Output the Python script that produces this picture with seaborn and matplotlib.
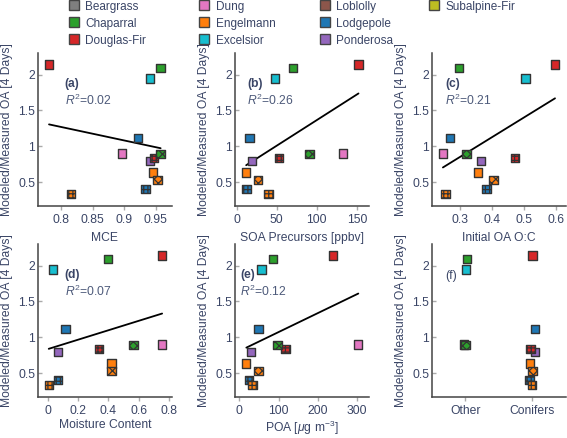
import numpy as np
import pandas as pd
import matplotlib
matplotlib.use("Agg")
import matplotlib.pyplot as plt
from matplotlib.lines import Line2D
from matplotlib.ticker import FuncFormatter
import seaborn as sns

# legend order / colours
fuels = ['Beargrass', 'Chaparral', 'Douglas-Fir', 'Dung', 'Engelmann',
         'Excelsior', 'Loblolly', 'Lodgepole', 'Ponderosa', 'Subalpine-Fir']
fuel_colors = ['#7f7f7f', '#2ca02c', '#d62728', '#e377c2', '#ff7f0e',
               '#17becf', '#8c564b', '#1f77b4', '#9467bd', '#bcbd22']

# one entry per fire
species = ['Douglas-Fir', 'Excelsior', 'Chaparral', 'Lodgepole', 'Dung', 'Douglas-Fir',
           'Chaparral', 'Ponderosa', 'Engelmann', 'Engelmann', 'Lodgepole', 'Engelmann']
pattern = ['', '', '', '', '', '+', 'x', '', '', 'x', '+', '+']
fuel_type = ['Conifers', 'Other', 'Other', 'Conifers', 'Other', 'Conifers',
             'Other', 'Conifers', 'Conifers', 'Conifers', 'Conifers', 'Conifers']
ratio = [2.14, 1.945, 2.09, 1.115, 0.90, 0.833, 0.89, 0.797, 0.635, 0.533, 0.40, 0.335]
mce = [0.781, 0.941, 0.958, 0.922, 0.897, 0.947, 0.958, 0.941, 0.946, 0.953, 0.934, 0.816]
soa_precursors = [152, 48, 70, 16, 133, 53, 91, 19, 12, 27, 12.5, 40]
initial_oc = [0.598, 0.506, 0.297, 0.27, 0.247, 0.473, 0.321, 0.367, 0.356, 0.405, 0.384, 0.255]
moisture = [0.755, 0.033, 0.40, 0.117, 0.755, 0.338, 0.567, 0.068, 0.421, 0.421, 0.07, 0.007]
poa = [238, 57, 86, 49, 303, 118, 97, 30, 18, 49, 24, 34]

r2_text = ['0.02', '0.26', '0.21', '0.07', '0.12']
panel_tags = ['(a)', '(b)', '(c)', '(d)', '(e)', '(f)']
tag_x = [0.2, 0.09, 0.1, 0.2, 0.04, 0.1]
x_labels = ['MCE', 'SOA Precursors [ppbv]', 'Initial OA O:C', 'Moisture Content',
            r'POA [$\mu$g m$^{-3}$]']
x_ticks = [[0.8, 0.85, 0.9, 0.95], [0, 50, 100, 150], [0.3, 0.4, 0.5, 0.6],
           [0, 0.2, 0.4, 0.6, 0.8], [0, 100, 200, 300]]
x_limits = [(0.7635, 0.976), (-2, 165), (0.2125, 0.632), (-0.064, 0.82), (-11, 330)]

df = pd.DataFrame({'species': species, 'pattern': pattern, 'fuel_type': fuel_type,
                   'ratio': ratio, 'mce': mce, 'soa': soa_precursors, 'oc': initial_oc,
                   'moisture': moisture, 'poa': poa})
x_cols = ['mce', 'soa', 'oc', 'moisture', 'poa']
palette = dict(zip(fuels, fuel_colors))
hatches = {'': None, '+': '++++', 'x': 'xxxx'}

sns.set_style('ticks')
text_col = '#3a4566'
plt.rcParams['font.family'] = ['Liberation Sans', 'DejaVu Sans']
plt.rcParams['mathtext.fontset'] = 'custom'
plt.rcParams['mathtext.rm'] = 'Liberation Sans'
plt.rcParams['mathtext.it'] = 'Liberation Sans:italic'
plt.rcParams['hatch.linewidth'] = 0.9
plt.rcParams['hatch.color'] = '#2b2b2b'
plt.rcParams['text.color'] = text_col
plt.rcParams['axes.labelcolor'] = text_col
plt.rcParams['xtick.color'] = '#aaaaaa'
plt.rcParams['ytick.color'] = '#aaaaaa'
plt.rcParams['xtick.labelcolor'] = text_col
plt.rcParams['ytick.labelcolor'] = text_col

fig, axes = plt.subplots(2, 3, figsize=(5.67, 4.38), dpi=100)
fig.subplots_adjust(left=0.067, right=0.998, top=0.879, bottom=0.094,
                    wspace=0.47, hspace=0.25)
axes = axes.ravel()
fmt = FuncFormatter(lambda v, p: '%g' % v)
marker_kw = dict(marker='s', s=36, edgecolor='#333333', linewidth=1.0, legend=False)

for i, ax in enumerate(axes):
    if i < 5:
        col = x_cols[i]
        sns.regplot(data=df, x=col, y='ratio', ax=ax, scatter=False, ci=None,
                    truncate=True, color='black', line_kws={'linewidth': 1.3})
        for pat, hatch in hatches.items():
            sub = df[df['pattern'] == pat]
            sns.scatterplot(data=sub, x=col, y='ratio', hue='species', palette=palette,
                            ax=ax, hatch=hatch, zorder=3, **marker_kw)
        ax.set_xlim(*x_limits[i])
        ax.set_xticks(x_ticks[i])
        ax.xaxis.set_major_formatter(fmt)
        ax.set_xlabel(x_labels[i], fontsize=8.7, labelpad=4 if i < 3 else 1)
        ax.text(tag_x[i], 0.80, panel_tags[i], transform=ax.transAxes, fontsize=8.7,
                fontweight='bold', va='center')
        ax.text(tag_x[i], 0.69, r'$R^2$=' + r2_text[i], transform=ax.transAxes,
                fontsize=8.7, color='#4d5a7a', va='center')
    else:
        np.random.seed(3)
        for pat, hatch in hatches.items():
            sub = df[df['pattern'] == pat]
            sns.stripplot(data=sub, x='fuel_type', y='ratio', hue='species',
                          palette=palette, order=['Other', 'Conifers'], ax=ax,
                          jitter=0.05, marker='s', size=6, edgecolor='#333333',
                          linewidth=1.0, hatch=hatch, legend=False, zorder=3)
        ax.set_xlim(-0.5, 1.5)
        ax.set_xlabel('')
        ax.text(tag_x[i], 0.79, panel_tags[i], transform=ax.transAxes, fontsize=8.7,
                va='center')
    ax.set_ylim(0.17, 2.3)
    ax.set_yticks([0.5, 1, 1.5, 2])
    ax.yaxis.set_major_formatter(fmt)
    ax.set_ylabel('Modeled/Measured OA [4 Days]', fontsize=8.7, labelpad=4)
    ax.tick_params(axis='x', labelsize=8.7, length=3, width=1, pad=3, direction='out')
    ax.tick_params(axis='y', labelsize=8.7, length=3, width=1, pad=2, direction='in')
    for side in ['left', 'bottom']:
        ax.spines[side].set_color('#444444')
        ax.spines[side].set_linewidth(1.1)
    sns.despine(ax=ax)

# legend: one legend per column so the columns sit where the reference has them
handles = [Line2D([], [], marker='s', linestyle='', markersize=7,
                  markerfacecolor=c, markeredgecolor='#444444', markeredgewidth=1.0)
           for c in fuel_colors]
col_groups = [[0, 1, 2], [3, 4, 5], [6, 7, 8], [9]]
col_marker_px = [73, 203.5, 324, 433.5]
for grp, mx in zip(col_groups, col_marker_px):
    fig.legend([handles[k] for k in grp], [fuels[k] for k in grp], loc='upper left',
               bbox_to_anchor=((mx - 4.7) / 567, 1.0), ncol=1, frameon=False,
               fontsize=8.5, handlelength=0.8, handletextpad=0.6, labelspacing=0.42,
               borderpad=0.05, borderaxespad=0)

fig.savefig('out.png', dpi=100)
